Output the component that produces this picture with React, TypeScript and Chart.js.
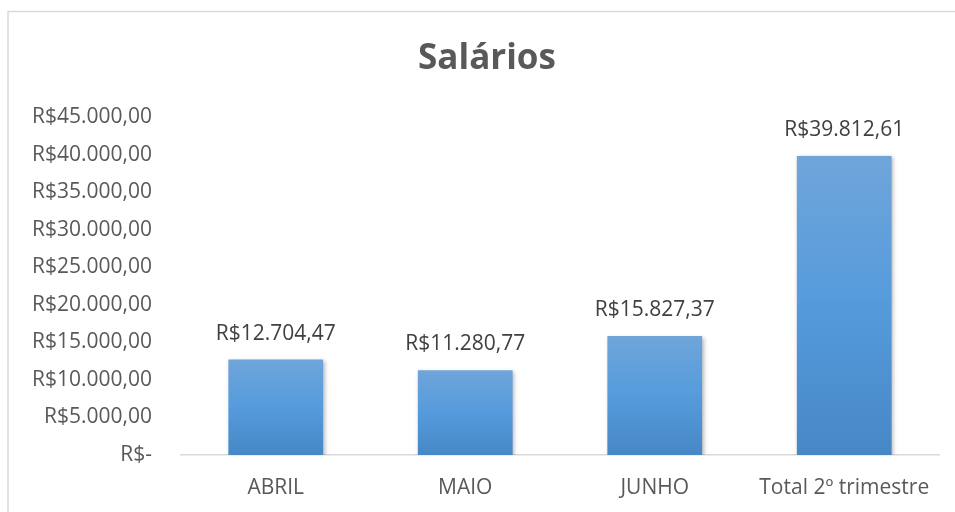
import React, { useEffect, useRef } from "react";
import { Chart, registerables } from "chart.js";

Chart.register(...registerables);

const chartTitle = "Salários";
const categories = ["ABRIL", "MAIO", "JUNHO", "Total 2º trimestre"];
const salaryValues = [12704.47, 11280.77, 15827.37, 39812.61];
const yTickValues = [0, 5000, 10000, 15000, 20000, 25000, 30000, 35000, 40000, 45000];

const FONT = "'Open Sans', 'Noto Sans', sans-serif";

function formatBRL(v: number): string {
  if (v === 0) return "R$-";
  const fixed = v.toFixed(2);
  const [intPart, dec] = fixed.split(".");
  const withDots = intPart.replace(/\B(?=(\d{3})+(?!\d))/g, ".");
  return "R$" + withDots + "," + dec;
}

const framePlugin = {
  id: "frame",
  beforeDraw(chart: any) {
    const ctx = chart.ctx;
    ctx.save();
    ctx.fillStyle = "#ffffff";
    ctx.fillRect(0, 0, chart.width, chart.height);
    ctx.strokeStyle = "#d9d9d9";
    ctx.lineWidth = 1.5;
    ctx.strokeRect(8, 11.5, chart.width + 20, chart.height + 20);
    // title
    ctx.fillStyle = "#595959";
    ctx.font = `bold 35px ${FONT}`;
    ctx.textAlign = "center";
    ctx.textBaseline = "middle";
    ctx.fillText(chartTitle, 487, 59);
    ctx.restore();
  },
};

const shadowPlugin = {
  id: "barShadow",
  beforeDatasetsDraw(chart: any) {
    const ctx = chart.ctx;
    ctx.save();
    ctx.shadowColor = "rgba(0,0,0,0.28)";
    ctx.shadowBlur = 4;
    ctx.shadowOffsetX = 1.5;
    ctx.shadowOffsetY = 1.5;
  },
  afterDatasetsDraw(chart: any) {
    chart.ctx.restore();
    const ctx = chart.ctx;
    ctx.save();
    ctx.fillStyle = "#404040";
    ctx.font = `21px ${FONT}`;
    ctx.textAlign = "center";
    ctx.textBaseline = "middle";
    const meta = chart.getDatasetMeta(0);
    meta.data.forEach((bar: any, i: number) => {
      const v = chart.data.datasets[0].data[i] as number;
      ctx.fillText(formatBRL(v), bar.x, bar.y - 26);
    });
    ctx.restore();
  },
};

export default function App() {
  const canvasRef = useRef<HTMLCanvasElement | null>(null);

  useEffect(() => {
    if (!canvasRef.current) return;
    const chart = new Chart(canvasRef.current, {
      type: "bar",
      data: {
        labels: categories,
        datasets: [
          {
            data: salaryValues,
            backgroundColor: (c: any) => {
              const chartObj = c.chart;
              const area = chartObj.chartArea;
              if (!area || c.dataIndex === undefined) return "#5b9bd5";
              const yScale = chartObj.scales.y;
              const v = salaryValues[c.dataIndex];
              const top = yScale.getPixelForValue(v);
              const bottom = yScale.getPixelForValue(0);
              const g = chartObj.ctx.createLinearGradient(0, top, 0, bottom);
              g.addColorStop(0, "#6fa5da");
              g.addColorStop(0.5, "#559bdc");
              g.addColorStop(1, "#4787c6");
              return g;
            },
            borderWidth: 0,
            categoryPercentage: 1,
            barPercentage: 0.5,
          },
        ],
      },
      options: {
        animation: false,
        responsive: false,
        layout: { padding: { top: 117, right: 16, bottom: 0, left: 0 } },
        plugins: {
          legend: { display: false },
          title: { display: false },
          tooltip: { enabled: false },
        },
        scales: {
          x: {
            grid: { display: false, drawTicks: false },
            border: { display: true, color: "#d9d9d9", width: 1.5 },
            ticks: {
              color: "#595959",
              font: { family: FONT, size: 21 },
              padding: 20,
              maxRotation: 0,
              autoSkip: false,
            },
            afterFit: (s: any) => {
              s.height = 57;
            },
          },
          y: {
            min: 0,
            max: 45000,
            grid: { display: false, drawTicks: false },
            border: { display: false },
            afterBuildTicks: (s: any) => {
              s.ticks = yTickValues.map((v) => ({ value: v }));
            },
            ticks: {
              color: "#595959",
              font: { family: FONT, size: 21 },
              padding: 29,
              callback: (v: any) => formatBRL(Number(v)),
            },
            afterFit: (s: any) => {
              s.width = 181;
            },
          },
        },
      },
      plugins: [framePlugin, shadowPlugin],
    });
    return () => chart.destroy();
  }, []);

  return (
    <div style={{ position: "absolute", left: 0, top: 0, width: 955, height: 512 }}>
      <canvas ref={canvasRef} width={955} height={512} style={{ display: "block" }} />
    </div>
  );
}
